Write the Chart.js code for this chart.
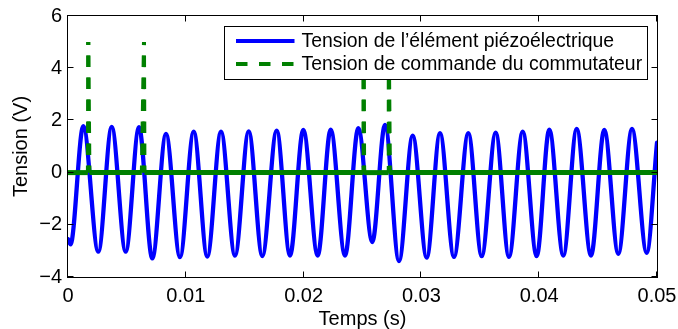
<!DOCTYPE html>
<html>
<head>
<meta charset="utf-8">
<script src="https://cdn.jsdelivr.net/npm/chart.js@4.4.1/dist/chart.umd.min.js"></script>
<style>
  html, body { margin: 0; padding: 0; background: #fff; }
  #wrap { width: 678px; height: 329px; }
</style>
</head>
<body>
<div id="wrap"><canvas id="c" width="678" height="329"></canvas></div>
<script>
// ---- Data ----
// Piezo element voltage: times (s) of the visible extrema and their values (V)
const piezoTime = [0, 0.000212, 0.001299, 0.002572, 0.003710, 0.004898, 0.006027, 0.007156,
  0.008319, 0.009508, 0.010671, 0.011825, 0.012988, 0.014177, 0.015340, 0.016494,
  0.017716, 0.018846, 0.019975, 0.021197, 0.022301, 0.023515, 0.024644, 0.025832,
  0.026910, 0.028099, 0.029262, 0.030450, 0.031579, 0.032767, 0.033981, 0.035119,
  0.036307, 0.037436, 0.038599, 0.039788, 0.040857, 0.042046, 0.043183, 0.044397,
  0.045526, 0.046715, 0.047878, 0.049126, 0.05];
const piezoVolt = [-2.55, -2.75, 1.78, -3.03, 1.75, -3.03, 1.74, -3.29,
  1.48, -3.24, 1.57, -3.22, 1.57, -3.18, 1.58, -3.20,
  1.61, -3.18, 1.64, -3.18, 1.65, -3.18, 1.70, -2.66,
  1.83, -3.39, 1.42, -3.26, 1.51, -3.23, 1.51, -3.20,
  1.53, -3.23, 1.57, -3.20, 1.65, -3.18, 1.67, -3.18,
  1.64, -3.11, 1.67, -3.07, 1.15];

// Switch command voltage: baseline with four short pulses
const cmdTime = [0, 0.00169, 0.00172, 0.00182, 0.00627, 0.00645, 0.00649,
  0.02507, 0.02509, 0.02514, 0.02720, 0.02723, 0.02733, 0.05];
const cmdVolt = [0, 0, 5, 0, 0, 5, 0, 0, 5, 0, 0, 5, 0, 0];

// Axes ticks and labels
const xTickValues = [0, 0.01, 0.02, 0.03, 0.04, 0.05];
const xTickLabels = ['0', '0.01', '0.02', '0.03', '0.04', '0.05'];
const yTickValues = [-4, -2, 0, 2, 4, 6];
const yTickLabels = ['\u22124', '\u22122', '0', '2', '4', '6'];

const seriesLabels = ['Tension de l\u2019\u00e9l\u00e9ment pi\u00e9zo\u00e9lectrique',
                      'Tension de commande du commutateur'];
const xTitle = 'Temps (s)';
const yTitle = 'Tension (V)';

// ---- Styles ----
const BLUE = '#0000ff';
const GREEN = '#008000';
const FONT = "'Liberation Sans', Arial, Helvetica, sans-serif";
const DASH_ON = 11.5, DASH_OFF = 10.5;
const DASH = [DASH_ON, DASH_OFF];
const DASH_P = DASH_ON + DASH_OFF;
const TOP_DOT = 3;

Chart.defaults.font.family = FONT;
Chart.defaults.color = '#000';

const piezoPts = piezoTime.map((t, i) => ({ x: t, y: piezoVolt[i] }));
const cmdPts = cmdTime.map((t, i) => ({ x: t, y: cmdVolt[i] }));

const isPulse = c => c.p0.parsed.y > 0.5 || c.p1.parsed.y > 0.5;
const isFall = c => c.p0.parsed.y > 0.5;
const mod = v => ((v % DASH_P) + DASH_P) % DASH_P;
const segLen = (a, b) => Math.hypot(b.x - a.x, b.y - a.y);

// Box + inward ticks (MATLAB style)
const framePlugin = {
  id: 'frame',
  afterDatasetsDraw(chart) {
    const { ctx, chartArea: a, scales: { x, y } } = chart;
    const L = a.left - 0.5, R = a.right + 0.5, T = a.top - 0.5, B = a.bottom + 0.5;
    const tl = 6;
    ctx.save();
    ctx.strokeStyle = '#000';
    ctx.lineWidth = 1;
    ctx.beginPath();
    xTickValues.forEach(v => {
      const px = Math.round(x.getPixelForValue(v)) - 0.5;
      ctx.moveTo(px, B); ctx.lineTo(px, B - tl);
      ctx.moveTo(px, T); ctx.lineTo(px, T + tl);
    });
    yTickValues.forEach(v => {
      const py = Math.round(y.getPixelForValue(v)) - 0.5;
      ctx.moveTo(L, py); ctx.lineTo(L + tl, py);
      ctx.moveTo(R, py); ctx.lineTo(R - tl, py);
    });
    ctx.stroke();
    ctx.strokeRect(L, T, R - L, B - T);
    ctx.restore();
  }
};

// Legend drawn inside the plot area with a white box
const legendPlugin = {
  id: 'boxLegend',
  afterDraw(chart) {
    const { ctx } = chart;
    const bx = 224.5, by = 26.5, bw = 423, bh = 53;
    ctx.save();
    ctx.fillStyle = '#fff';
    ctx.fillRect(bx, by, bw, bh);
    ctx.strokeStyle = '#000';
    ctx.lineWidth = 1;
    ctx.strokeRect(bx, by, bw, bh);
    const ds = chart.data.datasets;
    const rows = [41, 64];
    const order = [1, 0];
    order.forEach((di, r) => {
      const d = ds[di];
      ctx.beginPath();
      ctx.strokeStyle = d.borderColor;
      ctx.lineWidth = 4;
      ctx.lineCap = 'butt';
      ctx.setLineDash(di === 0 ? [11.5, 11.5] : []);
      ctx.moveTo(236, rows[r]);
      ctx.lineTo(294.5, rows[r]);
      ctx.stroke();
      ctx.setLineDash([]);
      ctx.fillStyle = '#000';
      ctx.font = '19.4px ' + FONT;
      ctx.textBaseline = 'middle';
      ctx.textAlign = 'left';
      ctx.fillText(d.label, 301.5, rows[r] + 1);
    });
    ctx.restore();
  }
};

new Chart(document.getElementById('c'), {
  type: 'line',
  data: {
    datasets: [
      {
        label: seriesLabels[1],
        data: cmdPts,
        borderColor: GREEN,
        backgroundColor: GREEN,
        borderWidth: 4.5,
        pointRadius: 0,
        tension: 0,
        clip: 0,
        borderJoinStyle: 'round',
        segment: {
          borderDash: c => isPulse(c) ? DASH : [],
          borderDashOffset: c => {
            if (!isPulse(c)) return 0;
            const len = segLen(c.p0, c.p1);
            const offR = mod(TOP_DOT - len);
            return isFall(c) ? mod(DASH_ON - offR - len) : offR;
          },
          borderWidth: c => isPulse(c) ? 4 : 5
        }
      },
      {
        label: seriesLabels[0],
        data: piezoPts,
        borderColor: BLUE,
        backgroundColor: BLUE,
        borderWidth: 4.3,
        pointRadius: 0,
        cubicInterpolationMode: 'monotone',
        clip: 0,
        borderCapStyle: 'round',
        borderJoinStyle: 'round'
      }
    ]
  },
  options: {
    responsive: false,
    animation: false,
    devicePixelRatio: 1,
    parsing: false,
    layout: { padding: { top: 16, right: 21, left: 0, bottom: 0 } },
    plugins: { legend: { display: false }, tooltip: { enabled: false } },
    scales: {
      x: {
        type: 'linear',
        min: 0, max: 0.05,
        grid: { display: false, drawTicks: false },
        border: { display: false },
        afterBuildTicks: s => { s.ticks = xTickValues.map(v => ({ value: v })); },
        afterFit: s => { s.height = 52; s.paddingLeft = 0; s.paddingRight = 0; },
        ticks: {
          autoSkip: false, maxRotation: 0, padding: 7,
          font: { size: 20, family: FONT },
          callback: (v, i) => xTickLabels[i]
        },
        title: { display: true, text: xTitle, font: { size: 20, family: FONT, lineHeight: 1 }, padding: 0 }
      },
      y: {
        type: 'linear',
        min: -4, max: 6,
        grid: { display: false, drawTicks: false },
        border: { display: false },
        afterBuildTicks: s => { s.ticks = yTickValues.map(v => ({ value: v })); },
        afterFit: s => { s.width = 68; s.paddingTop = 0; s.paddingBottom = 0; },
        ticks: {
          autoSkip: false, padding: 6,
          font: { size: 20, family: FONT },
          callback: (v, i) => yTickLabels[i]
        },
        title: { display: true, text: yTitle, font: { size: 20, family: FONT, lineHeight: 1 }, padding: { top: 11, bottom: 0 } }
      }
    }
  },
  plugins: [framePlugin, legendPlugin]
});
</script>
</body>
</html>
